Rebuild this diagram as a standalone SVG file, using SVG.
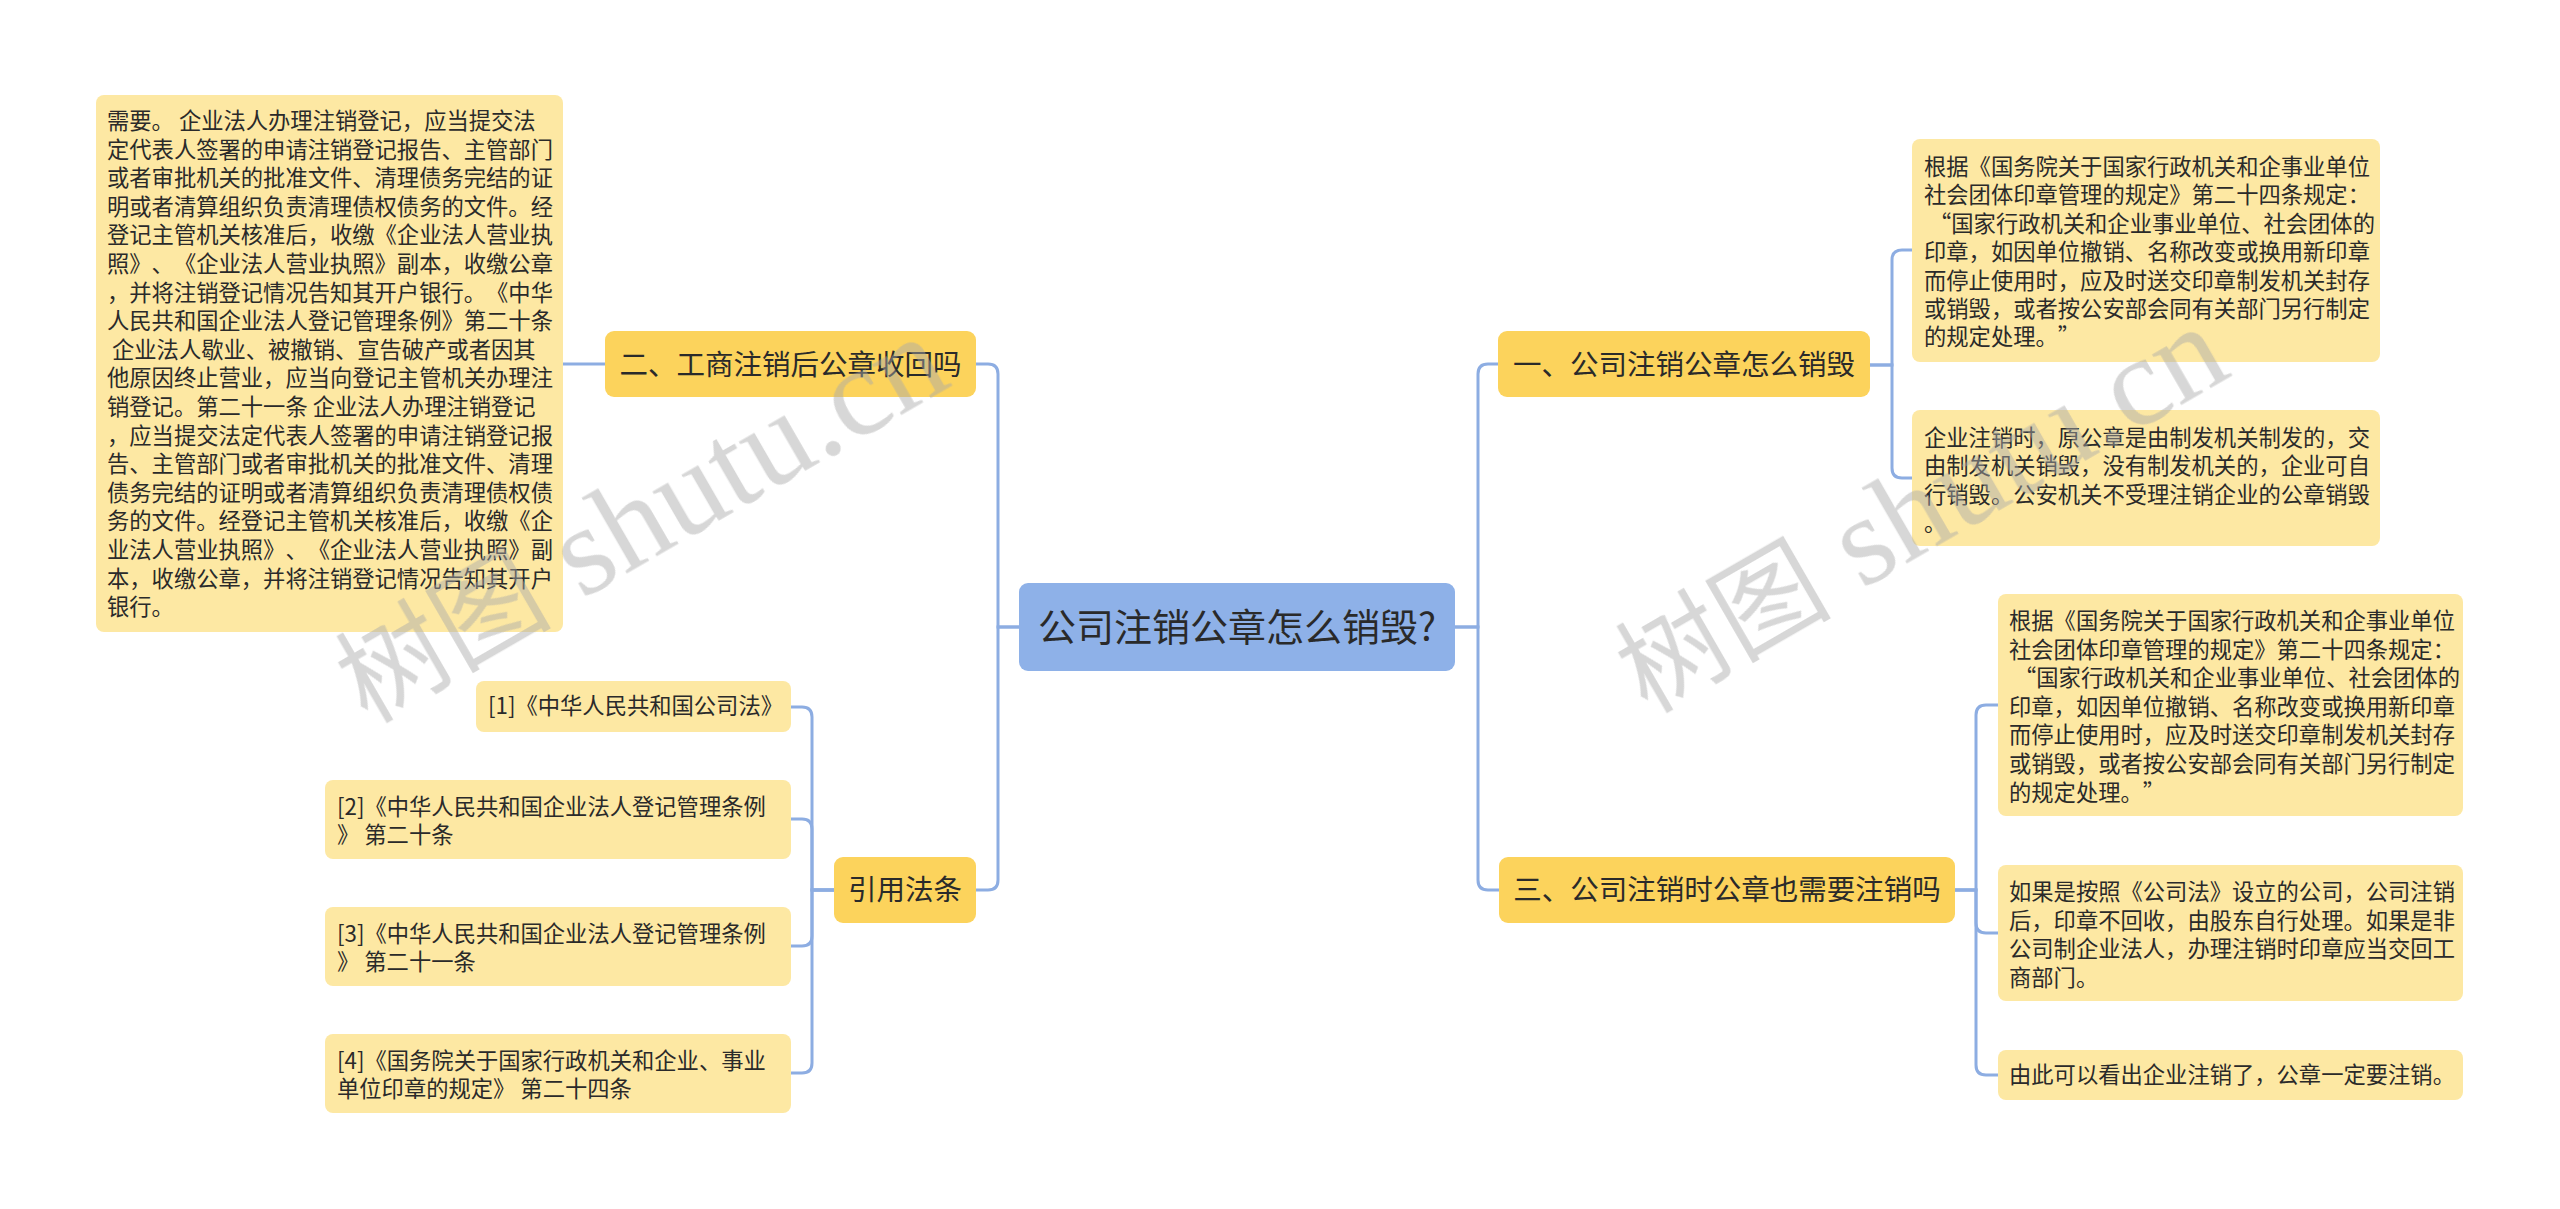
<svg xmlns="http://www.w3.org/2000/svg" width="2560" height="1209" viewBox="0 0 2560 1209">
<style>
.root{fill:#8eb1e8}
.l1{fill:#fcd35c}
.leaf{fill:#fde8a3}
.t{font-family:"Noto Sans CJK SC","Microsoft YaHei",sans-serif;fill:#2a2a2a;text-spacing-trim:space-all;font-kerning:none}
.rt{font-size:38px}
.t1{font-size:28.5px}
.tl{font-size:22.3px}
.c{text-anchor:middle}
.conn path{fill:none;stroke:#8dade2;stroke-width:3}
.wm{fill:#aaaaaa;opacity:0.47}
</style>
<rect width="2560" height="1209" fill="#ffffff"/>
<g class="conn" id="connectors">
<path d="M1019,627 H998 V374 Q998,364 988,364 H976"/>
<path d="M1019,627 H998 V880 Q998,890 988,890 H976"/>
<path d="M563,364 H605"/>
<path d="M834,890 H812 V717 Q812,707 802,707 H791"/>
<path d="M834,890 H812 V829 Q812,819 802,819 H791"/>
<path d="M834,890 H812 V936 Q812,946 802,946 H791"/>
<path d="M834,890 H812 V1063 Q812,1073 802,1073 H791"/>
<path d="M1455,627 H1478 V374 Q1478,364 1488,364 H1498"/>
<path d="M1455,627 H1478 V880 Q1478,890 1488,890 H1499"/>
<path d="M1870,365 H1892 V260 Q1892,250 1902,250 H1912"/>
<path d="M1870,365 H1892 V468 Q1892,478 1902,478 H1912"/>
<path d="M1955,890 H1976 V715 Q1976,705 1986,705 H1998"/>
<path d="M1955,890 H1976 V923 Q1976,933 1986,933 H1998"/>
<path d="M1955,890 H1976 V1065 Q1976,1075 1986,1075 H1998"/>
</g>
<g id="root">
<rect class="root" x="1019" y="583" width="436" height="88" rx="9"/>
<text class="t rt c" x="1237" y="641">公司注销公章怎么销毁?</text>
</g>
<g id="n-er">
<rect class="l1" x="605" y="331" width="371" height="66" rx="9"/>
<text class="t t1 c" x="790.5" y="375">二、工商注销后公章收回吗</text>
</g>
<g id="n-yinyong">
<rect class="l1" x="834" y="857" width="142" height="66" rx="9"/>
<text class="t t1 c" x="905" y="900">引用法条</text>
</g>
<g id="n-yi">
<rect class="l1" x="1498" y="331" width="372" height="66" rx="9"/>
<text class="t t1 c" x="1684" y="375">一、公司注销公章怎么销毁</text>
</g>
<g id="n-san">
<rect class="l1" x="1499" y="857" width="456" height="66" rx="9"/>
<text class="t t1 c" x="1727" y="900">三、公司注销时公章也需要注销吗</text>
</g>
<g id="n-er-1">
<rect class="leaf" x="96" y="95" width="467" height="537" rx="8"/>
<text class="t tl" xml:space="preserve"><tspan x="107" y="129">需要。 企业法人办理注销登记，应当提交法</tspan><tspan x="107" y="157.6">定代表人签署的申请注销登记报告、主管部门</tspan><tspan x="107" y="186.2">或者审批机关的批准文件、清理债务完结的证</tspan><tspan x="107" y="214.8">明或者清算组织负责清理债权债务的文件。经</tspan><tspan x="107" y="243.4">登记主管机关核准后，收缴《企业法人营业执</tspan><tspan x="107" y="272">照》、《企业法人营业执照》副本，收缴公章</tspan><tspan x="107" y="300.6">，并将注销登记情况告知其开户银行。《中华</tspan><tspan x="107" y="329.2">人民共和国企业法人登记管理条例》第二十条</tspan><tspan x="107" y="357.8"> 企业法人歇业、被撤销、宣告破产或者因其</tspan><tspan x="107" y="386.4">他原因终止营业，应当向登记主管机关办理注</tspan><tspan x="107" y="415">销登记。第二十一条 企业法人办理注销登记</tspan><tspan x="107" y="443.6">，应当提交法定代表人签署的申请注销登记报</tspan><tspan x="107" y="472.2">告、主管部门或者审批机关的批准文件、清理</tspan><tspan x="107" y="500.8">债务完结的证明或者清算组织负责清理债权债</tspan><tspan x="107" y="529.4">务的文件。经登记主管机关核准后，收缴《企</tspan><tspan x="107" y="558">业法人营业执照》、《企业法人营业执照》副</tspan><tspan x="107" y="586.6">本，收缴公章，并将注销登记情况告知其开户</tspan><tspan x="107" y="615.2">银行。</tspan></text>
</g>
<g id="n-ref-1">
<rect class="leaf" x="476" y="681" width="315" height="51" rx="8"/>
<text class="t tl" x="488" y="714">[1]《中华人民共和国公司法》</text>
</g>
<g id="n-ref-2">
<rect class="leaf" x="325" y="780" width="466" height="79" rx="8"/>
<text class="t tl" xml:space="preserve"><tspan x="337" y="815">[2]《中华人民共和国企业法人登记管理条例</tspan><tspan x="337" y="843">》 第二十条</tspan></text>
</g>
<g id="n-ref-3">
<rect class="leaf" x="325" y="907" width="466" height="79" rx="8"/>
<text class="t tl" xml:space="preserve"><tspan x="337" y="942">[3]《中华人民共和国企业法人登记管理条例</tspan><tspan x="337" y="970">》 第二十一条</tspan></text>
</g>
<g id="n-ref-4">
<rect class="leaf" x="325" y="1034" width="466" height="79" rx="8"/>
<text class="t tl" xml:space="preserve"><tspan x="337" y="1069">[4]《国务院关于国家行政机关和企业、事业</tspan><tspan x="337" y="1097">单位印章的规定》 第二十四条</tspan></text>
</g>
<g id="n-yi-1">
<rect class="leaf" x="1912" y="139" width="468" height="223" rx="8"/>
<text class="t tl" xml:space="preserve"><tspan x="1924" y="175">根据《国务院关于国家行政机关和企事业单位</tspan><tspan x="1924" y="203.4">社会团体印章管理的规定》第二十四条规定：</tspan><tspan x="1924" y="231.8"> “国家行政机关和企业事业单位、社会团体的</tspan><tspan x="1924" y="260.2">印章，如因单位撤销、名称改变或换用新印章</tspan><tspan x="1924" y="288.6">而停止使用时，应及时送交印章制发机关封存</tspan><tspan x="1924" y="317">或销毁，或者按公安部会同有关部门另行制定</tspan><tspan x="1924" y="345.4">的规定处理。”</tspan></text>
</g>
<g id="n-yi-2">
<rect class="leaf" x="1912" y="410" width="468" height="136" rx="8"/>
<text class="t tl"><tspan x="1924" y="446">企业注销时，原公章是由制发机关制发的，交</tspan><tspan x="1924" y="474.4">由制发机关销毁，没有制发机关的，企业可自</tspan><tspan x="1924" y="502.8">行销毁。公安机关不受理注销企业的公章销毁</tspan><tspan x="1924" y="531.2">。</tspan></text>
</g>
<g id="n-san-1">
<rect class="leaf" x="1998" y="594" width="465" height="222" rx="8"/>
<text class="t tl" xml:space="preserve"><tspan x="2009" y="629">根据《国务院关于国家行政机关和企事业单位</tspan><tspan x="2009" y="657.6">社会团体印章管理的规定》第二十四条规定：</tspan><tspan x="2009" y="686.2"> “国家行政机关和企业事业单位、社会团体的</tspan><tspan x="2009" y="714.8">印章，如因单位撤销、名称改变或换用新印章</tspan><tspan x="2009" y="743.4">而停止使用时，应及时送交印章制发机关封存</tspan><tspan x="2009" y="772">或销毁，或者按公安部会同有关部门另行制定</tspan><tspan x="2009" y="800.6">的规定处理。”</tspan></text>
</g>
<g id="n-san-2">
<rect class="leaf" x="1998" y="865" width="465" height="136" rx="8"/>
<text class="t tl"><tspan x="2009" y="900">如果是按照《公司法》设立的公司，公司注销</tspan><tspan x="2009" y="928.6">后，印章不回收，由股东自行处理。如果是非</tspan><tspan x="2009" y="957.2">公司制企业法人，办理注销时印章应当交回工</tspan><tspan x="2009" y="985.8">商部门。</tspan></text>
</g>
<g id="n-san-3">
<rect class="leaf" x="1998" y="1050" width="465" height="50" rx="8"/>
<text class="t tl" x="2009" y="1083">由此可以看出企业注销了，公章一定要注销。</text>
</g>
<g id="watermarks" class="wm">
<text transform="translate(367,724) rotate(-30)" xml:space="preserve"><tspan style="font-family:'Noto Sans CJK SC',sans-serif;font-size:108px">树图</tspan><tspan style="font-family:'Liberation Serif',serif;font-size:128px"> shutu.cn</tspan></text>
<text transform="translate(1647,714) rotate(-30)" xml:space="preserve"><tspan style="font-family:'Noto Sans CJK SC',sans-serif;font-size:108px">树图</tspan><tspan style="font-family:'Liberation Serif',serif;font-size:128px"> shutu.cn</tspan></text>
</g>
</svg>
